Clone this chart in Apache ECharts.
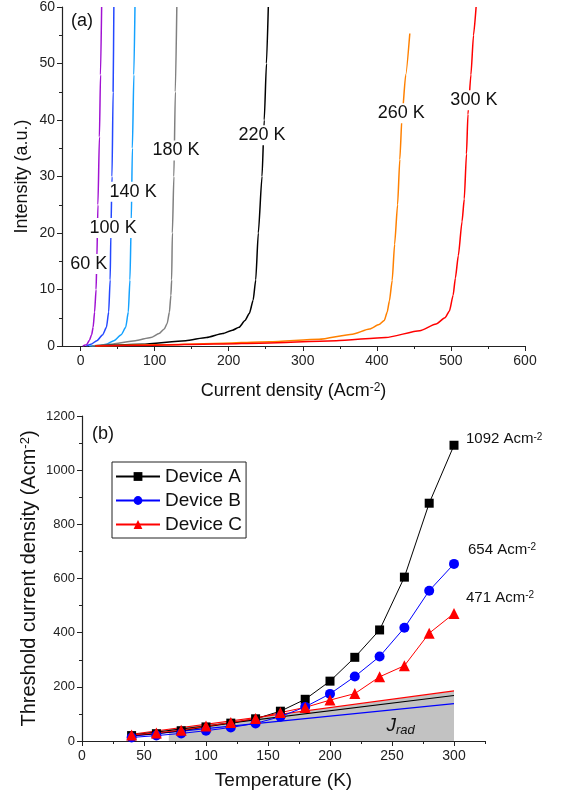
<!DOCTYPE html>
<html>
<head>
<meta charset="utf-8">
<script src="https://cdn.jsdelivr.net/npm/echarts@6/dist/echarts.min.js"></script>
<style>
	html, body { margin: 0; padding: 0; background: #fff; }
	#chart { width: 566px; height: 800px; }
</style>
</head>
<body>
<div id="chart"></div>
<script>
	// (a) L-I curves, [current density, intensity]
	var curveNames = ['60 K', '100 K', '140 K', '180 K', '220 K', '260 K', '300 K'];
	var curveColors = ['#a012d2', '#2448ff', '#14a2ff', '#808080', '#000000', '#ff8000', '#ff0000'];
	var curve60 = [[3, 0], [8, 0.2], [12, 1], [15, 2], [17, 3.3], [19, 6], [21, 10], [22, 15], [23.5, 25], [25.5, 37], [27, 48], [28.5, 60]];
	var curve100 = [[8, 0], [14, 0.3], [22, 0.95], [30, 2], [35, 3.3], [38, 6], [40, 11.7], [41, 20], [42.5, 30], [44, 45], [45, 60]];
	var curve140 = [[12, 0], [25, 0.1], [35, 0.3], [45, 0.95], [55, 2], [61, 3.3], [64.5, 6], [66.7, 11.7], [68.5, 22], [70, 35], [72, 48], [73.5, 60]];
	var curve180 = [[15, 0], [40, 0.3], [74, 0.95], [95, 1.5], [106, 2.2], [113, 3], [117, 4], [120, 6], [122, 9], [123, 11.7], [124, 20], [126, 30], [128, 45], [130, 60]];
	var curve220 = [[20, 0], [83, 0.3], [142, 0.95], [170, 1.5], [192, 2.2], [205, 2.8], [214, 3.3], [222, 4.5], [228, 5.8], [233, 8.1], [236.5, 11.7], [240, 20], [245, 30], [248, 40], [251, 50], [253.5, 60]];
	var curve260 = [[20, 0], [100, 0.2], [180, 0.45], [255, 0.76], [322, 1.2], [367, 2.1], [390, 3], [403, 3.8], [410, 4.5], [414, 6], [417, 8], [420.7, 11.6], [424, 18], [428, 25], [431, 33], [434, 40.6], [439, 48], [444.5, 55.3]];
	var curve300 = [[20, 0], [100, 0.15], [180, 0.35], [255, 0.55], [345, 0.94], [412, 1.5], [458, 2.7], [480, 3.9], [492, 5], [498, 6.2], [503, 9], [506, 12], [510, 16], [515, 22], [518, 26], [521, 34], [523, 41], [527, 48], [530.5, 55], [534, 60]];
	var curves = [curve60, curve100, curve140, curve180, curve220, curve260, curve300];
	// where each temperature label sits, in data units
	var curveLabelAt = [[11, 14.5], [44, 20.9], [71, 27.3], [129, 34.6], [245, 37.3], [433, 41.2], [531, 43.5]];

	// (b) threshold current density vs temperature
	var temps = [40, 60, 80, 100, 120, 140, 160, 180, 200, 220, 240, 260, 280, 300];
	var deviceA = [20, 27, 38, 52, 66, 82, 110, 154, 221, 309, 410, 605, 878, 1092];
	var deviceB = [13, 20, 28, 38, 50, 65, 90, 126, 174, 238, 312, 418, 555, 654];
	var deviceC = [22, 30, 40, 55, 68, 83, 105, 124, 151, 175, 237, 278, 398, 471];
	var endLabels = ['1092 Acm', '654 Acm', '471 Acm'];
	// radiative current lines
	var jradTemps = [40, 300];
	var jradA = [22, 168];
	var jradB = [18, 138];
	var jradC = [25, 185];
	var jradFillTemps = [70, 300];
	var jradFill = [43, 185];

	var xTicksA = [0, 100, 200, 300, 400, 500, 600];
	var xMinorA = [50, 150, 250, 350, 450, 550];
	var xTicksB = [0, 50, 100, 150, 200, 250, 300];
	var xMinorB = [25, 75, 125, 175, 225, 275, 325];

	function pairs(xs, ys) {
		return xs.map(function (x, i) { return [x, ys[i]]; });
	}

	var font = '"Liberation Sans", Arial, sans-serif';
	var axisColor = '#222';
	var supRich = { s: { fontSize: 12, verticalAlign: 'top', fontFamily: font, color: '#111' } };

	var chart = echarts.init(document.getElementById('chart'), null, { renderer: 'canvas' });

	function mainX(grid, min, max, ticks, name, nameSize, gap) {
		return {
			type: 'value', gridIndex: grid, position: 'bottom', min: min, max: max,
			name: name, nameLocation: 'middle', nameGap: gap,
			nameTextStyle: { fontSize: nameSize, color: '#111', fontFamily: font, rich: supRich },
			axisLine: { show: true, onZero: false, lineStyle: { color: axisColor, width: 1.2 } },
			axisTick: { show: true, length: 5, customValues: ticks, lineStyle: { color: axisColor } },
			axisLabel: { customValues: ticks, fontSize: 14, color: '#222', fontFamily: font, margin: 8 },
			splitLine: { show: false }
		};
	}
	function minorX(grid, min, max, ticks) {
		return {
			type: 'value', gridIndex: grid, position: 'bottom', min: min, max: max,
			axisLine: { show: false, onZero: false },
			axisTick: { show: true, length: 3, customValues: ticks, lineStyle: { color: axisColor } },
			axisLabel: { show: false },
			splitLine: { show: false }
		};
	}

	var series = [];
	curves.forEach(function (c, i) {
		series.push({
			name: curveNames[i], type: 'line', xAxisIndex: 0, yAxisIndex: 0,
			data: c, showSymbol: false, smooth: 0.2, smoothMonotone: 'x',
			lineStyle: { color: curveColors[i], width: 1.5 }, itemStyle: { color: curveColors[i] },
			markPoint: {
				symbol: 'circle', symbolSize: 0, silent: true,
				label: {
					show: true, position: 'inside', formatter: '{b}', fontSize: 18, color: '#111',
					fontFamily: font, backgroundColor: '#fff', padding: [1, 1]
				},
				data: [{ name: curveNames[i], coord: curveLabelAt[i] }]
			},
			z: 2
		});
	});

	series.push({
		name: 'Jrad', type: 'line', xAxisIndex: 2, yAxisIndex: 1,
		data: pairs(jradFillTemps, jradFill), showSymbol: false,
		lineStyle: { width: 0 }, areaStyle: { color: '#c2c2c2', opacity: 1 },
		markPoint: {
			symbol: 'circle', symbolSize: 0, silent: true,
			label: {
				show: true, position: 'inside', formatter: '{j|J}{r|rad}',
				rich: {
					j: { fontSize: 19, fontStyle: 'italic', color: '#111', fontFamily: font },
					r: { fontSize: 13, fontStyle: 'italic', color: '#111', fontFamily: font, padding: [10, 0, 0, 0] }
				}
			},
			data: [{ coord: [257, 58] }]
		},
		z: 1
	});
	[[jradC, '#ff0000'], [jradA, '#000000'], [jradB, '#0000ff']].forEach(function (l) {
		series.push({
			type: 'line', xAxisIndex: 2, yAxisIndex: 1, data: pairs(jradTemps, l[0]),
			showSymbol: false, lineStyle: { color: l[1], width: 1.2 }, z: 2
		});
	});

	var devices = [
		['Device A', deviceA, '#000000', 'rect', 9, [12, -6]],
		['Device B', deviceB, '#0000ff', 'circle', 10, [14, -14]],
		['Device C', deviceC, '#ff0000', 'triangle', 11, [12, -16]]
	];
	devices.forEach(function (d, i) {
		var last = temps.length - 1;
		series.push({
			name: d[0], type: 'line', xAxisIndex: 2, yAxisIndex: 1,
			data: pairs(temps, d[1]), symbol: d[3], symbolSize: d[4], showSymbol: true,
			lineStyle: { color: d[2], width: 1 }, itemStyle: { color: d[2] },
			markPoint: {
				symbol: 'circle', symbolSize: 0, silent: true,
				label: {
					show: true, position: 'right', distance: d[5][0], offset: [0, d[5][1]],
					formatter: '{a|' + endLabels[i] + '}{s|-2}',
					rich: {
						a: { fontSize: 15, color: '#111', fontFamily: font },
						s: { fontSize: 10, color: '#111', fontFamily: font, verticalAlign: 'top' }
					}
				},
				data: [{ coord: [temps[last], d[1][last]] }]
			},
			z: 3
		});
	});

	chart.setOption({
		backgroundColor: '#fff',
		animation: false,
		textStyle: { fontFamily: font },
		grid: [
			{ left: 62, right: 41, top: 7, height: 339 },
			{ left: 82, right: 81, top: 416, height: 325 }
		],
		legend: {
			data: ['Device A', 'Device B', 'Device C'],
			orient: 'vertical', left: 112, top: 462,
			borderColor: '#222', borderWidth: 1, borderRadius: 0,
			padding: [5, 4, 4, 3], itemWidth: 44, itemHeight: 11, itemGap: 5,
			textStyle: { fontSize: 19, color: '#111', fontFamily: font }
		},
		xAxis: [
			mainX(0, -25, 600, xTicksA, 'Current density (Acm{s|-2})', 18, 36),
			minorX(0, -25, 600, xMinorA),
			mainX(1, 0, 325, xTicksB, 'Temperature (K)', 19, 30),
			minorX(1, 0, 325, xMinorB)
		],
		yAxis: [
			{
				type: 'value', gridIndex: 0, min: 0, max: 60, interval: 10,
				name: 'Intensity (a.u.)', nameLocation: 'middle', nameGap: 31, nameMoveOverlap: false,
				nameTextStyle: { fontSize: 18, color: '#111', fontFamily: font },
				axisLine: { show: true, onZero: false, lineStyle: { color: axisColor, width: 1.2 } },
				axisTick: { show: true, length: 5, lineStyle: { color: axisColor } },
				minorTick: { show: true, splitNumber: 2, length: 3, lineStyle: { color: axisColor } },
				axisLabel: { fontSize: 14, color: '#222', fontFamily: font, margin: 7 },
				splitLine: { show: false }
			},
			{
				type: 'value', gridIndex: 1, min: 0, max: 1200, interval: 200,
				name: 'Threshold current density (Acm{s|-2})', nameLocation: 'middle', nameGap: 43, nameMoveOverlap: false,
				nameTextStyle: { fontSize: 20, color: '#111', fontFamily: font, rich: { s: { fontSize: 13, verticalAlign: 'top', color: '#111', fontFamily: font } } },
				axisLine: { show: true, onZero: false, lineStyle: { color: axisColor, width: 1.2 } },
				axisTick: { show: true, length: 5, lineStyle: { color: axisColor } },
				minorTick: { show: true, splitNumber: 2, length: 3, lineStyle: { color: axisColor } },
				axisLabel: { fontSize: 13, color: '#222', fontFamily: font, margin: 7, formatter: function (v) { return String(v); } },
				splitLine: { show: false }
			}
		],
		graphic: [
			{ type: 'text', left: 71, top: 12, style: { text: '(a)', fontSize: 18, fill: '#111', fontFamily: font } },
			{ type: 'text', left: 92, top: 425, style: { text: '(b)', fontSize: 18, fill: '#111', fontFamily: font } }
		],
		series: series
	});
</script>
</body>
</html>
